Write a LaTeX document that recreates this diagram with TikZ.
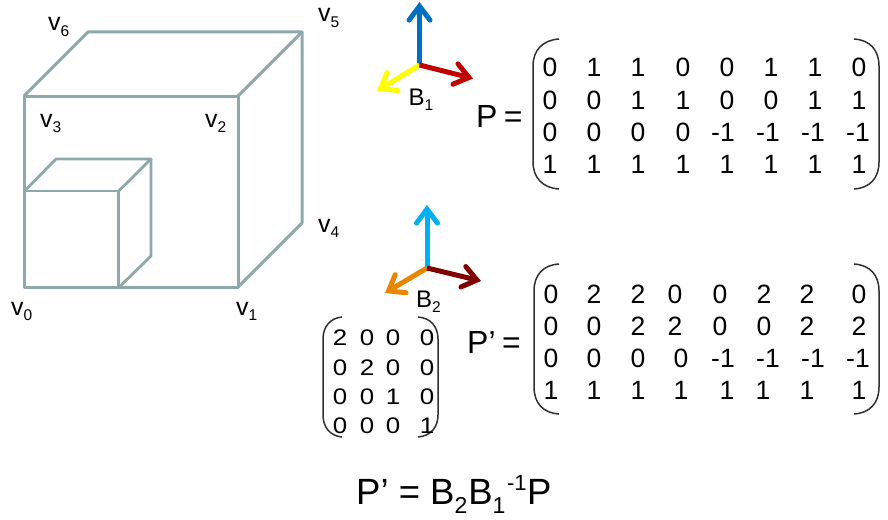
\documentclass[tikz,border=0pt]{standalone}
\usepackage{fontspec}
\setmainfont{Liberation Sans}
\newfontfamily\widefont[FakeStretch=1.15]{Liberation Sans}
\usetikzlibrary{arrows.meta}
\definecolor{cubeline}{HTML}{8FA9AA}
\definecolor{bracket}{HTML}{303030}
\tikzset{
  x=1pt,y=-1pt,
  txt/.style={inner sep=0pt,anchor=base west,text=black},
  vlab/.style={txt,font=\fontsize{25}{25}\selectfont},
  blab/.style={txt,font=\fontsize{24}{24}\selectfont},
  num/.style={inner sep=0pt,anchor=base,text=black,font=\fontsize{26.5}{26.5}\selectfont},
  smallnum/.style={inner sep=0pt,anchor=base,text=black,font=\widefont\fontsize{22.5}{22.5}\selectfont},
  eqn/.style={txt,font=\fontsize{32}{32}\selectfont},
  big/.style={draw=cubeline,line width=3pt,line join=round},
  thin cube/.style={draw=cubeline,line width=2.8pt,line join=round},
  axis/.style={line width=5pt,-{Straight Barb[length=14pt,width=21pt,line cap=round]}},
  paren/.style={draw=bracket,line width=1.5pt},
}
\newcommand{\sbs}[1]{\raisebox{-5.5pt}{\fontsize{15.5}{15.5}\selectfont #1}}
\newcommand{\fsub}[1]{\raisebox{-9pt}{\fontsize{23}{23}\selectfont #1}}
\begin{document}
\begin{tikzpicture}
\useasboundingbox (0,0) rectangle (888,519);
% big cube
\coordinate (v0) at (24,287);
\coordinate (v1) at (238,287);
\coordinate (v2) at (238,96);
\coordinate (v3) at (24,96);
\coordinate (v4) at (302,223);
\coordinate (v5) at (302,32);
\coordinate (v6) at (88,32);
\draw[big] (v0) -- (v1) -- (v2) -- (v3) -- cycle;
\draw[big] (v3) -- (v6) -- (v5) -- (v2);
\draw[big] (v5) -- (v4) -- (v1);
% small cube
\coordinate (s0) at (24.6,287.6);
\coordinate (s1) at (118.7,287.6);
\coordinate (s2) at (118.7,191);
\coordinate (s3) at (24.6,191);
\coordinate (s4) at (151,256);
\coordinate (s5) at (151,159);
\coordinate (s6) at (56,159);
\draw[thin cube] (s0) -- (s1) -- (s2) -- (s3) -- cycle;
\draw[thin cube] (s3) -- (s6) -- (s5) -- (s2);
\draw[thin cube] (s5) -- (s4) -- (s1);
% vertex labels
\node[vlab] (l6) at (48,31) {v\sbs{6}};
\node[vlab] (l5) at (318,22) {v\sbs{5}};
\node[vlab] (l3) at (40,127) {v\sbs{3}};
\node[vlab] (l2) at (205,127) {v\sbs{2}};
\node[vlab] (l4) at (318,232) {v\sbs{4}};
\node[vlab] (l0) at (11,315) {v\sbs{0}};
\node[vlab] (l1) at (236,315) {v\sbs{1}};
% basis 1
\coordinate (o1) at (419.5,65);
\coordinate (b1u) at (419.5,2);
\coordinate (b1r) at (473,78.5);
\coordinate (b1l) at (377,91);
\draw[axis,draw={rgb,255:red,0;green,112;blue,192}] (o1) -- (b1u);
\draw[axis,draw={rgb,255:red,255;green,255;blue,0}] (o1) -- (b1l);
\draw[axis,draw={rgb,255:red,192;green,0;blue,0}] (o1) -- (b1r);
\node[blab] (B1) at (408.5,105) {B\sbs{1}};
% basis 2
\coordinate (o2) at (427,268);
\coordinate (b2u) at (427,205);
\coordinate (b2r) at (481,281);
\coordinate (b2l) at (385,293);
\draw[axis,draw={rgb,255:red,0;green,176;blue,240}] (o2) -- (b2u);
\draw[axis,draw={rgb,255:red,232;green,134;blue,0}] (o2) -- (b2l);
\draw[axis,draw={rgb,255:red,128;green,0;blue,0}] (o2) -- (b2r);
\node[blab] (B2) at (416,307) {B\sbs{2}};
% P
\node[eqn] (Peq) at (476,127) {P\hspace{-2.5pt} =};
\draw[paren] (559,39) .. controls (543,40) and (533,50) .. (533,66) -- (533,162) .. controls (533,178) and (543,188) .. (559,189);
\draw[paren] (854,39) .. controls (870,40) and (879,50) .. (879,66) -- (879,162) .. controls (879,178) and (870,188) .. (854,189);
\foreach \x/\t [count=\i] in {550/0,594/1,638/1,683/0,727/0,771/1,815/1,859/0}
  \node[num] (pa\i) at (\x,77) {\t};
\foreach \x/\t [count=\i] in {550/0,594/0,638/1,683/1,727/0,771/0,815/1,859/1}
  \node[num] (pb\i) at (\x,109) {\t};
\foreach \x/\t [count=\i] in {550/0,594/0,638/0,683/0,723/-1,768/-1,813/-1,858/-1}
  \node[num] (pc\i) at (\x,141) {\t};
\foreach \x/\t [count=\i] in {550/1,594/1,638/1,683/1,727/1,771/1,815/1,859/1}
  \node[num] (pd\i) at (\x,173) {\t};
% P'
\node[eqn] (Qeq) at (467,353) {P’\hspace{-2.5pt} =};
\draw[paren] (559,264) .. controls (543,265) and (534,275) .. (534,291) -- (534,387) .. controls (534,403) and (543,413) .. (559,414);
\draw[paren] (854,264) .. controls (870,265) and (879,275) .. (879,291) -- (879,387) .. controls (879,403) and (870,413) .. (854,414);
\foreach \x/\t [count=\i] in {551/0,594/2,638/2,675/0,720/0,764/2,807/2,859/0}
  \node[num] (qa\i) at (\x,303) {\t};
\foreach \x/\t [count=\i] in {551/0,594/0,638/2,675/2,720/0,764/0,807/2,859/2}
  \node[num] (qb\i) at (\x,335) {\t};
\foreach \x/\t [count=\i] in {551/0,594/0,638/0,681/0,723/-1,768/-1,813/-1,858/-1}
  \node[num] (qc\i) at (\x,367) {\t};
\foreach \x/\t [count=\i] in {551/1,594/1,638/1,681/1,727/1,763/1,807/1,859/1}
  \node[num] (qd\i) at (\x,399) {\t};
% small matrix
\draw[paren] (342,317) .. controls (330,318) and (323,327) .. (323,339) -- (323,415) .. controls (323,427) and (330,436) .. (342,437);
\draw[paren] (418,317) .. controls (431,318) and (438,327) .. (438,339) -- (438,415) .. controls (438,427) and (431,436) .. (418,437);
\foreach \x/\t [count=\i] in {340/2,367/0,393/0,427/0}
  \node[smallnum] (ma\i) at (\x,345) {\t};
\foreach \x/\t [count=\i] in {340/0,367/2,393/0,427/0}
  \node[smallnum] (mb\i) at (\x,375) {\t};
\foreach \x/\t [count=\i] in {340/0,367/0,393/1,427/0}
  \node[smallnum] (mc\i) at (\x,404) {\t};
\foreach \x/\t [count=\i] in {340/0,367/0,393/0,427/1}
  \node[smallnum] (md\i) at (\x,433) {\t};
% formula
\node[txt,font=\fontsize{36.5}{36.5}\selectfont] (F) at (356,504) {P’ = B\fsub{2}\hspace{1pt}B\fsub{1}\hspace{1.5pt}\raisebox{14pt}{\fontsize{22}{22}\selectfont -1}\hspace{0.5pt}P};
\end{tikzpicture}
\end{document}
